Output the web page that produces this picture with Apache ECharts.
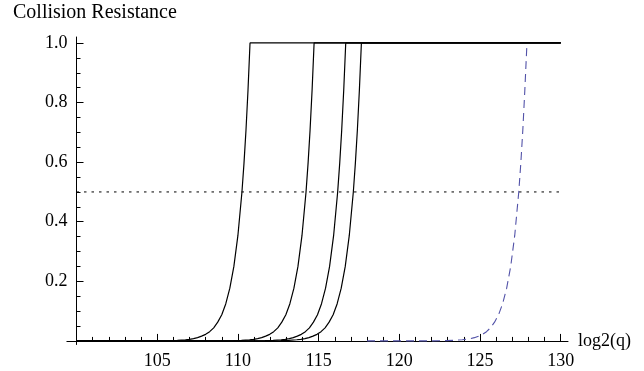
<!DOCTYPE html>
<html><head><meta charset="utf-8">
<script src="https://cdn.jsdelivr.net/npm/echarts@6/dist/echarts.min.js"></script>
<style>html,body{margin:0;padding:0;background:#fff}#c{width:644px;height:371px}</style>
</head><body><div id="c"></div>
<script>
// Tick values / labels
const xMinorTicks = [101,102,103,104,105,106,107,108,109,110,111,112,113,114,115,116,117,118,119,120,121,122,123,124,125,126,127,128,129,130];
const xMajorTicks = [105,110,115,120,125,130];
const yMinorTicks = [0.05,0.1,0.15,0.2,0.25,0.3,0.35,0.4,0.45,0.5,0.55,0.6,0.65,0.7,0.75,0.8,0.85,0.9,0.95,1.0];
const yMajorTicks = [0.2,0.4,0.6,0.8,1.0];

// Series values: [log2(q), collision resistance]
const curveA = [[100,0],[104.75,0.0002],[105.75,0.001],[106.25,0.002],[106.75,0.004],[107,0.0055],[107.25,0.008],[107.5,0.011],[107.75,0.016],[108,0.022],[108.25,0.031],[108.5,0.044],[108.75,0.063],[109,0.088],[109.25,0.125],[109.5,0.177],[109.75,0.25],[110,0.354],[110.25,0.5],[110.375,0.595],[110.5,0.707],[110.625,0.841],[110.75,1],[130,1]];
const curveB = [[100,0],[108.72,0.0002],[109.72,0.001],[110.22,0.002],[110.72,0.004],[110.97,0.0055],[111.22,0.008],[111.47,0.011],[111.72,0.016],[111.97,0.022],[112.22,0.031],[112.47,0.044],[112.72,0.063],[112.97,0.088],[113.22,0.125],[113.47,0.177],[113.72,0.25],[113.97,0.354],[114.22,0.5],[114.345,0.595],[114.47,0.707],[114.595,0.841],[114.72,1],[130,1]];
const curveC = [[100,0],[110.68,0.0002],[111.68,0.001],[112.18,0.002],[112.68,0.004],[112.93,0.0055],[113.18,0.008],[113.43,0.011],[113.68,0.016],[113.93,0.022],[114.18,0.031],[114.43,0.044],[114.68,0.063],[114.93,0.088],[115.18,0.125],[115.43,0.177],[115.68,0.25],[115.93,0.354],[116.18,0.5],[116.305,0.595],[116.43,0.707],[116.555,0.841],[116.68,1],[130,1]];
const curveD = [[100,0],[111.65,0.0002],[112.65,0.001],[113.15,0.002],[113.65,0.004],[113.9,0.0055],[114.15,0.008],[114.4,0.011],[114.65,0.016],[114.9,0.022],[115.15,0.031],[115.4,0.044],[115.65,0.063],[115.9,0.088],[116.15,0.125],[116.4,0.177],[116.65,0.25],[116.9,0.354],[117.15,0.5],[117.275,0.595],[117.4,0.707],[117.525,0.841],[117.65,1],[130,1]];
const curveIdeal = [[118,0],[121.9,0.0002],[122.9,0.001],[123.4,0.002],[123.9,0.004],[124.15,0.0055],[124.4,0.008],[124.65,0.011],[124.9,0.016],[125.15,0.022],[125.4,0.031],[125.65,0.044],[125.9,0.063],[126.15,0.088],[126.4,0.125],[126.65,0.177],[126.9,0.25],[127.15,0.354],[127.4,0.5],[127.525,0.595],[127.65,0.707],[127.775,0.841],[127.9,0.99]];
const halfLine = [[100,0.5],[130,0.5]];

const FONT = 'Liberation Serif';
const chart = echarts.init(document.getElementById('c'), null, {renderer:'canvas'});
const XMIN = 100, XMAX = 130.45, YMIN = -0.012, YMAX = 1.02;
function lineSeries(data, color, width, type, z){
  return {type:'line', data:data, showSymbol:false, symbol:'none', smooth:false, z:z||3,
    lineStyle:{color:color, width:width, type:type||'solid'}, animation:false, silent:true};
}
chart.setOption({
  animation:false,
  title:{text:'Collision Resistance', left:13, top:3, padding:0,
    textStyle:{fontFamily:FONT, fontSize:20, fontWeight:'normal', color:'#000'}},
  grid:{left:76.5, right:76, top:37, bottom:26.5, containLabel:false},
  xAxis:[
    {type:'value', position:'bottom', min:XMIN, max:XMAX, name:'log2(q)', nameLocation:'end', nameGap:10,
     nameTextStyle:{fontFamily:FONT, fontSize:18, color:'#000', verticalAlign:'middle', padding:[0,0,4,0]},
     axisLine:{onZero:true, lineStyle:{color:'#000', width:1}},
     axisTick:{show:true, inside:true, length:4, customValues:xMinorTicks, lineStyle:{color:'#000'}},
     axisLabel:{show:false}, splitLine:{show:false}},
    {type:'value', position:'bottom', min:XMIN, max:XMAX,
     axisLine:{show:false, onZero:true},
     axisTick:{show:true, inside:true, length:7, customValues:xMajorTicks, lineStyle:{color:'#000'}},
     axisLabel:{show:true, customValues:xMajorTicks, margin:8, fontFamily:FONT, fontSize:18, color:'#000'},
     splitLine:{show:false}}
  ],
  yAxis:[
    {type:'value', min:YMIN, max:YMAX,
     axisLine:{show:true, onZero:false, lineStyle:{color:'#000', width:1}},
     axisTick:{show:true, inside:true, length:4, customValues:yMinorTicks, lineStyle:{color:'#000'}},
     axisLabel:{show:false}, splitLine:{show:false}},
    {type:'value', min:YMIN, max:YMAX, position:'left', offset:0,
     axisLine:{show:false, onZero:false},
     axisTick:{show:true, inside:true, length:7, customValues:yMajorTicks, lineStyle:{color:'#000'}},
     axisLabel:{show:true, customValues:yMajorTicks, margin:9, fontFamily:FONT, fontSize:18, color:'#000',
       formatter:function(v){return v.toFixed(1);}},
     splitLine:{show:false}}
  ],
  series:[
    lineSeries(halfLine, '#000', 1, [2.5,5], 2),
    lineSeries(curveIdeal, '#5252a8', 1.1, [8,5], 3),
    lineSeries(curveD, '#000', 1.2, 'solid', 4),
    lineSeries(curveC, '#000', 1.2, 'solid', 4),
    lineSeries(curveB, '#000', 1.2, 'solid', 4),
    lineSeries(curveA, '#000', 1.2, 'solid', 4)
  ]
});
// small extension of the x axis line to the left of the y axis (Mathematica style)
const p0 = chart.convertToPixel({xAxisIndex:0, yAxisIndex:0}, [XMIN, 0]);
chart.setOption({graphic:[{type:'line', shape:{x1:p0[0]-10, y1:Math.round(p0[1])+0.5, x2:p0[0], y2:Math.round(p0[1])+0.5},
  style:{stroke:'#000', lineWidth:1}, silent:true}]});
</script></body></html>
